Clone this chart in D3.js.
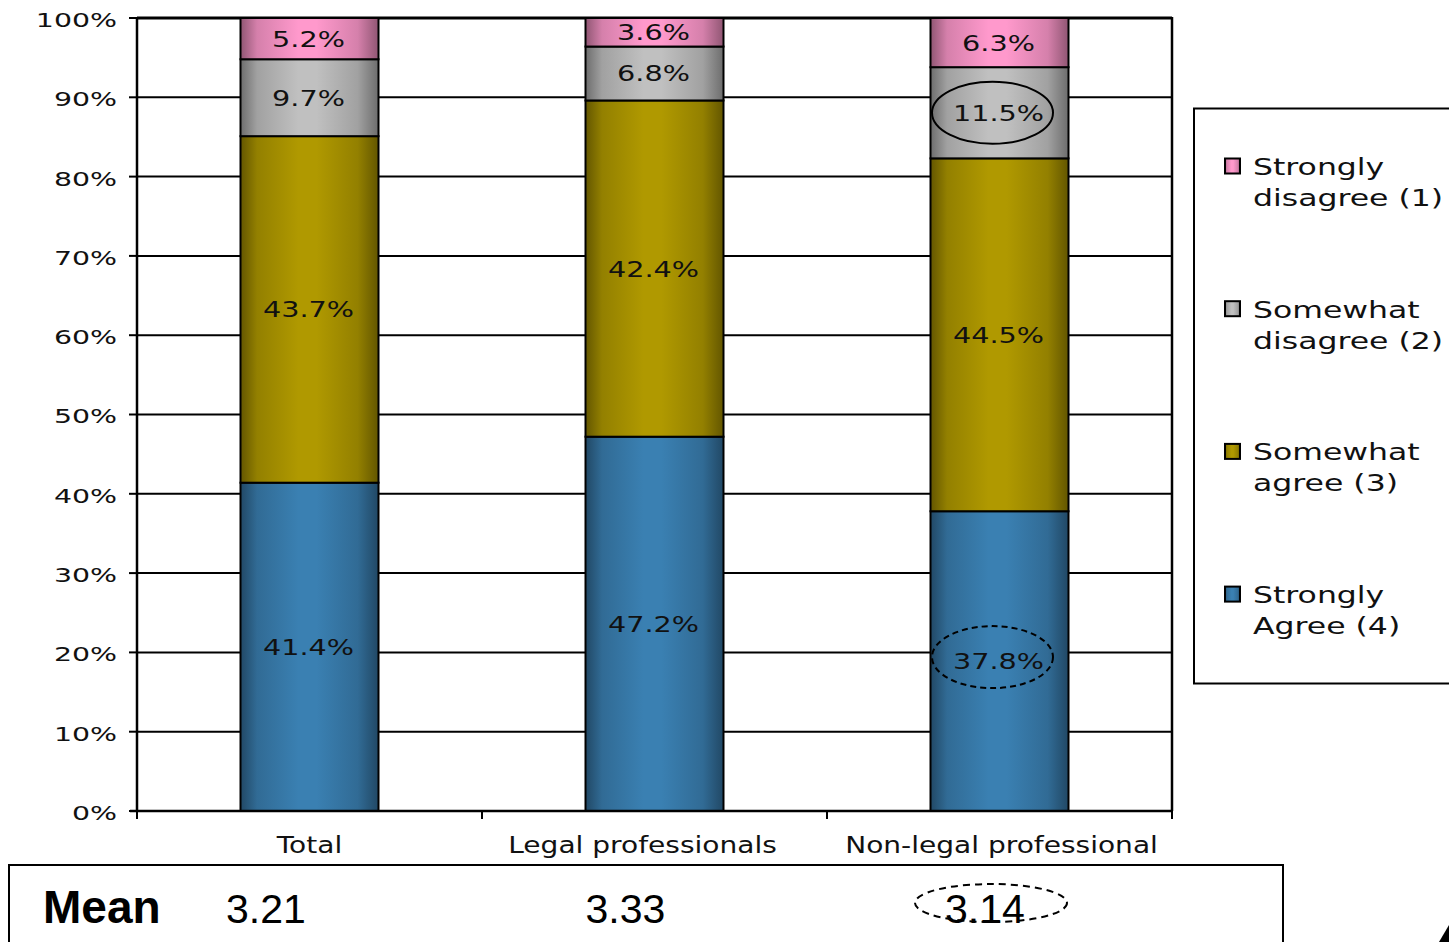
<!DOCTYPE html>
<html><head><meta charset="utf-8">
<script src="https://cdn.jsdelivr.net/npm/d3@7"></script>
<style>html,body{margin:0;padding:0;background:#fff;overflow:hidden}svg{display:block}</style>
</head><body>
<script>
// ---- data ----
const categories = ["Total", "Legal professionals", "Non-legal professional"];
const seriesNames = ["Strongly Agree (4)", "Somewhat agree (3)", "Somewhat disagree (2)", "Strongly disagree (1)"];
const legendLines = [["Strongly", "disagree (1)"], ["Somewhat", "disagree (2)"], ["Somewhat", "agree (3)"], ["Strongly", "Agree (4)"]];
const stronglyAgree   = [41.4, 47.2, 37.8];
const somewhatAgree   = [43.7, 42.4, 44.5];
const somewhatDisagree = [9.7, 6.8, 11.5];
const stronglyDisagree = [5.2, 3.6, 6.3];
const means = [3.21, 3.33, 3.14];
const yTicks = [0, 10, 20, 30, 40, 50, 60, 70, 80, 90, 100];

const colors = ["#3a80b2", "#b09900", "#c0c0c0", "#ff99cc"];

const W = 1449, H = 942;
const svg = d3.select("body").append("svg").attr("width", W).attr("height", H);
const defs = svg.append("defs");

colors.forEach((c, i) => {
  const g = defs.append("linearGradient").attr("id", "g" + i).attr("x1", 0).attr("x2", 1).attr("y1", 0).attr("y2", 0);
  const dk = d3.color(c).darker(1.6);
  const mid = d3.color(c).darker(0.5);
  g.append("stop").attr("offset", "0%").attr("stop-color", dk);
  g.append("stop").attr("offset", "12%").attr("stop-color", mid);
  g.append("stop").attr("offset", "42%").attr("stop-color", c);
  g.append("stop").attr("offset", "55%").attr("stop-color", c);
  g.append("stop").attr("offset", "85%").attr("stop-color", mid);
  g.append("stop").attr("offset", "100%").attr("stop-color", dk);
});

const x = d3.scaleBand().domain(categories).range([137, 1172]).paddingInner(0.6).paddingOuter(0.3);
const y = d3.scaleLinear().domain([0, 100]).range([811, 18]);

function sText(parent, tx, ty, sx, str) {
  return parent.append("text").attr("transform", `translate(${tx},${ty}) scale(${sx},1)`).text(str);
}

// gridlines
svg.append("g").selectAll("line").data(yTicks.filter(d => d > 0)).join("line")
  .attr("x1", 137).attr("x2", 1172).attr("y1", d => y(d)).attr("y2", d => y(d))
  .attr("stroke", "#000").attr("stroke-width", d => d === 100 ? 3 : 2);
// right border
svg.append("line").attr("x1", 1172).attr("x2", 1172).attr("y1", y(100) - 1).attr("y2", y(0)).attr("stroke", "#000").attr("stroke-width", 2.5);

// stacked data
const rows = categories.map((c, i) => ({ cat: c, vals: [stronglyAgree[i], somewhatAgree[i], somewhatDisagree[i], stronglyDisagree[i]] }));
const segs = [];
rows.forEach(r => { let cum = 0; r.vals.forEach((v, k) => { segs.push({ cat: r.cat, k, v, y0: cum, y1: cum + v }); cum += v; }); });

svg.append("g").selectAll("rect").data(segs).join("rect")
  .attr("x", d => x(d.cat)).attr("width", x.bandwidth())
  .attr("y", d => y(Math.min(d.y1, 100))).attr("height", d => y(d.y0) - y(Math.min(d.y1, 100)))
  .attr("fill", d => `url(#g${d.k})`).attr("stroke", "#000").attr("stroke-width", 2);

// labels
const lab = svg.append("g").attr("font-family", "DejaVu Sans").attr("font-size", 20.5).attr("fill", "#111").attr("text-anchor", "middle").attr("dominant-baseline", "central");
segs.forEach(d => {
  sText(lab, x(d.cat) + x.bandwidth() / 2 - 1, y((d.y0 + Math.min(d.y1, 100)) / 2) + 1, 1.4, d.v.toFixed(1) + "%");
});

// annotations (ellipses) on Non-legal
const nl = categories[2];
const cxNL = x(nl) + x.bandwidth() / 2 - 7;
const sdSeg = segs.find(s => s.cat === nl && s.k === 2);
const saSeg = segs.find(s => s.cat === nl && s.k === 0);
svg.append("ellipse").attr("cx", cxNL).attr("cy", y((sdSeg.y0 + sdSeg.y1) / 2)).attr("rx", 60.5).attr("ry", 31)
  .attr("fill", "none").attr("stroke", "#000").attr("stroke-width", 2);
svg.append("ellipse").attr("cx", cxNL).attr("cy", y((saSeg.y0 + saSeg.y1) / 2) - 4).attr("rx", 60.5).attr("ry", 31)
  .attr("fill", "none").attr("stroke", "#000").attr("stroke-width", 2).attr("stroke-dasharray", "6,4");

// y axis
svg.append("line").attr("x1", 137).attr("x2", 137).attr("y1", y(100)).attr("y2", y(0)).attr("stroke", "#000").attr("stroke-width", 2.5);
svg.append("line").attr("x1", 130).attr("x2", 1172).attr("y1", y(0)).attr("y2", y(0)).attr("stroke", "#000").attr("stroke-width", 2.5);
svg.append("g").selectAll("line").data(yTicks).join("line")
  .attr("x1", 129).attr("x2", 137).attr("y1", d => y(d)).attr("y2", d => y(d)).attr("stroke", "#000").attr("stroke-width", 2);
const yl = svg.append("g").attr("font-family", "DejaVu Sans").attr("font-size", 20).attr("fill", "#111").attr("text-anchor", "end").attr("dominant-baseline", "central");
yTicks.forEach(t => sText(yl, 117, y(t) + 2, 1.42, t + "%"));

// x axis ticks
const bounds = [137].concat(categories.map(c => x(c) + x.bandwidth() / 2 + x.step() / 2));
svg.append("g").selectAll("line").data(bounds).join("line")
  .attr("x1", d => d).attr("x2", d => d).attr("y1", y(0)).attr("y2", y(0) + 8).attr("stroke", "#000").attr("stroke-width", 2);
const labelDx = [0, -12, 2];
const xl = svg.append("g").attr("font-family", "DejaVu Sans").attr("font-size", 23).attr("fill", "#111").attr("text-anchor", "middle");
categories.forEach((c, i) => sText(xl, x(c) + x.bandwidth() / 2 + labelDx[i], 853, 1.22, c));

// legend
svg.append("rect").attr("x", 1194).attr("y", 108.5).attr("width", 300).attr("height", 575).attr("fill", "#fff").attr("stroke", "#000").attr("stroke-width", 2);
const lg = svg.append("g").attr("font-family", "DejaVu Sans").attr("font-size", 23).attr("fill", "#111");
legendLines.forEach((ln, i) => {
  const base = 175 + i * 142.7;
  const k = 3 - i;
  lg.append("rect").attr("x", 1225).attr("y", base - 16.5).attr("width", 15).attr("height", 15)
    .attr("fill", `url(#g${k})`).attr("stroke", "#000").attr("stroke-width", 2);
  sText(lg, 1253, base, 1.37, ln[0]);
  sText(lg, 1253, base + 31, 1.37, ln[1]);
});

// Mean table
svg.append("rect").attr("x", 9).attr("y", 865).attr("width", 1274).attr("height", 120).attr("fill", "none").attr("stroke", "#000").attr("stroke-width", 2);
svg.append("text").attr("x", 43).attr("y", 923).attr("font-family", "Liberation Sans").attr("font-weight", "bold").attr("font-size", 46).attr("fill", "#000").text("Mean");
const mx = d3.scalePoint().domain(categories).range([226, 945]);
svg.append("g").selectAll("text").data(means).join("text")
  .attr("x", (d, i) => mx(categories[i])).attr("y", 923)
  .attr("font-family", "Liberation Sans").attr("font-size", 41).attr("fill", "#000").text(d => d.toFixed(2));
svg.append("ellipse").attr("cx", 991).attr("cy", 903).attr("rx", 76).attr("ry", 19)
  .attr("fill", "none").attr("stroke", "#000").attr("stroke-width", 2).attr("stroke-dasharray", "7,5");

// corner artifact
svg.append("path").attr("d", "M1449,925 L1449,942 L1439,942 Z").attr("fill", "#000");
</script>
</body></html>
